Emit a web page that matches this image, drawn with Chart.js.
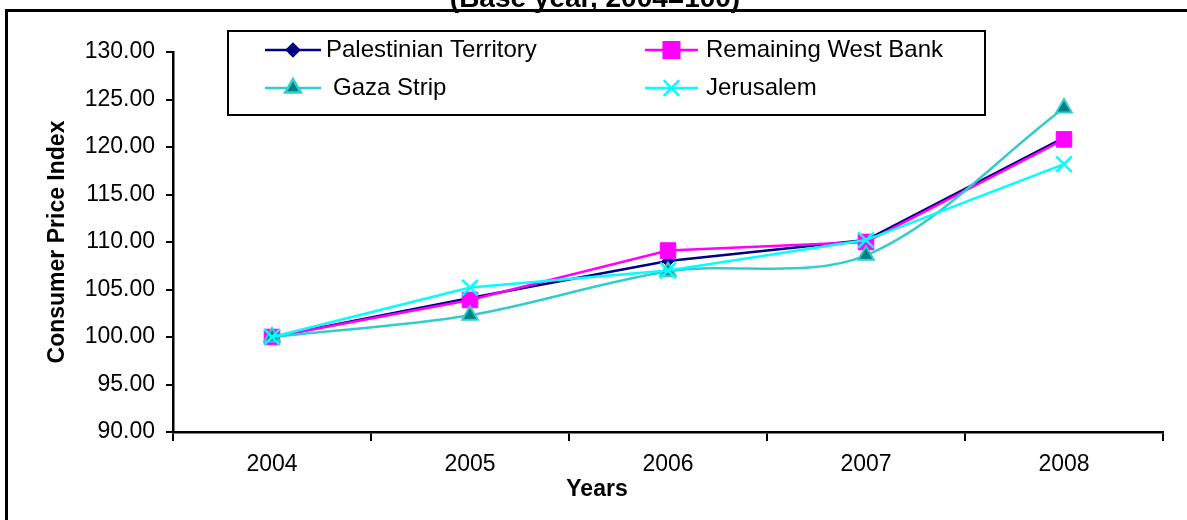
<!DOCTYPE html>
<html>
<head>
<meta charset="utf-8">
<script src="https://cdn.jsdelivr.net/npm/chart.js@4.4.1/dist/chart.umd.min.js"></script>
<style>
  body { margin: 0; background: #fff; }
  #wrap { width: 1187px; height: 520px; position: relative; }
</style>
</head>
<body>
<div id="wrap"><canvas id="cpiChart"></canvas></div>
<script>
const years = ['2004', '2005', '2006', '2007', '2008'];
const palestinianTerritory = [100, 104.1, 108.0, 110.2, 121.0];
const remainingWestBank = [100, 103.9, 109.1, 110.0, 120.8];
const gazaStrip = [100, 102.3, 106.9, 108.6, 124.1];
const jerusalem = [100, 105.2, 107.0, 110.2, 118.2];

const FONT = '"Liberation Sans", Arial, sans-serif';

// frame, title, "Years" and the boxed legend are drawn by hand
const extrasPlugin = {
  id: 'extras',
  afterDraw(chart) {
    const ctx = chart.ctx;
    ctx.save();

    // outer frame (right/bottom edges fall outside the picture)
    ctx.strokeStyle = '#000';
    ctx.lineWidth = 3;
    ctx.beginPath();
    ctx.moveTo(6.5, 520);
    ctx.lineTo(6.5, 10.5);
    ctx.lineTo(1187, 10.5);
    ctx.stroke();

    ctx.fillStyle = '#000';
    ctx.textAlign = 'center';
    ctx.textBaseline = 'alphabetic';
    ctx.font = 'bold 28px ' + FONT;
    ctx.fillText('(Base year, 2004=100)', 595, 7);

    ctx.font = 'bold 23px ' + FONT;
    ctx.textBaseline = 'middle';
    ctx.fillText('Years', 597, 490);

    // legend box
    ctx.lineWidth = 2;
    ctx.strokeRect(228, 31, 757, 84);

    const slots = [
      { x1: 265, x2: 321, tx: 326, y: 50 },
      { x1: 645, x2: 698, tx: 706, y: 50 },
      { x1: 265, x2: 321, tx: 333, y: 88 },
      { x1: 645, x2: 698, tx: 706, y: 88 }
    ];
    ctx.font = '24px ' + FONT;
    ctx.textAlign = 'left';
    chart.data.datasets.forEach((ds, i) => {
      const s = slots[i];
      ctx.strokeStyle = ds.borderColor;
      ctx.lineWidth = ds.borderWidth;
      ctx.beginPath();
      ctx.moveTo(s.x1, s.y);
      ctx.lineTo(s.x2, s.y);
      ctx.stroke();
      ctx.fillStyle = ds.pointBackgroundColor;
      ctx.strokeStyle = ds.pointBorderColor;
      Chart.helpers.drawPoint(ctx, {
        pointStyle: ds.pointStyle,
        radius: ds.pointRadius,
        rotation: 0,
        borderWidth: ds.pointBorderWidth
      }, (s.x1 + s.x2) / 2, s.y);
      ctx.fillStyle = '#000';
      ctx.fillText(ds.label, s.tx, s.y);
    });

    ctx.restore();
  }
};

const ctx = document.getElementById('cpiChart');
new Chart(ctx, {
  type: 'line',
  data: {
    labels: years,
    datasets: [{
      label: 'Palestinian Territory',
      data: palestinianTerritory,
      borderColor: '#000080',
      borderWidth: 2.5,
      pointStyle: 'rectRot',
      pointRadius: 6,
      pointBackgroundColor: '#000080',
      pointBorderColor: '#000080',
      pointBorderWidth: 1,
      order: 4
    }, {
      label: 'Remaining West Bank',
      data: remainingWestBank,
      borderColor: '#FF00FF',
      borderWidth: 2.5,
      pointStyle: 'rect',
      pointRadius: 11,
      pointBackgroundColor: '#FF00FF',
      pointBorderColor: '#FF00FF',
      pointBorderWidth: 1,
      order: 3
    }, {
      label: 'Gaza Strip',
      data: gazaStrip,
      borderColor: '#33CCCC',
      borderWidth: 2.5,
      tension: 0.33,
      pointStyle: 'triangle',
      pointRadius: 9,
      pointBackgroundColor: '#008080',
      pointBorderColor: '#33CCCC',
      pointBorderWidth: 2,
      order: 2
    }, {
      label: 'Jerusalem',
      data: jerusalem,
      borderColor: '#00FFFF',
      borderWidth: 2.5,
      pointStyle: 'crossRot',
      pointRadius: 11,
      pointBackgroundColor: '#00FFFF',
      pointBorderColor: '#00FFFF',
      pointBorderWidth: 2.5,
      order: 1
    }]
  },
  options: {
    responsive: true,
    maintainAspectRatio: false,
    animation: false,
    layout: { padding: { left: 30, top: 52, right: 24, bottom: 0 } },
    plugins: {
      legend: { display: false },
      tooltip: { enabled: false }
    },
    scales: {
      x: {
        offset: true,
        grid: { offset: true, drawOnChartArea: false, drawTicks: true, tickLength: 9, color: '#000', lineWidth: 2 },
        border: { color: '#000', width: 2.5 },
        ticks: { color: '#000', padding: 10, font: { family: FONT, size: 23 } },
        afterFit(scale) { scale.height = 88; }
      },
      y: {
        min: 90,
        max: 130,
        grid: { drawOnChartArea: false, drawTicks: true, tickLength: 7, color: '#000', lineWidth: 2 },
        border: { color: '#000', width: 2.5 },
        ticks: {
          stepSize: 5,
          color: '#000',
          padding: 11,
          font: { family: FONT, size: 23 },
          callback: v => v.toFixed(2)
        },
        title: {
          display: true,
          text: 'Consumer Price Index',
          color: '#000',
          padding: { top: 14, bottom: 0 },
          font: { family: FONT, size: 23, weight: 'bold' }
        },
        afterFit(scale) { scale.width = 143; }
      }
    }
  },
  plugins: [extrasPlugin]
});
</script>
</body>
</html>
